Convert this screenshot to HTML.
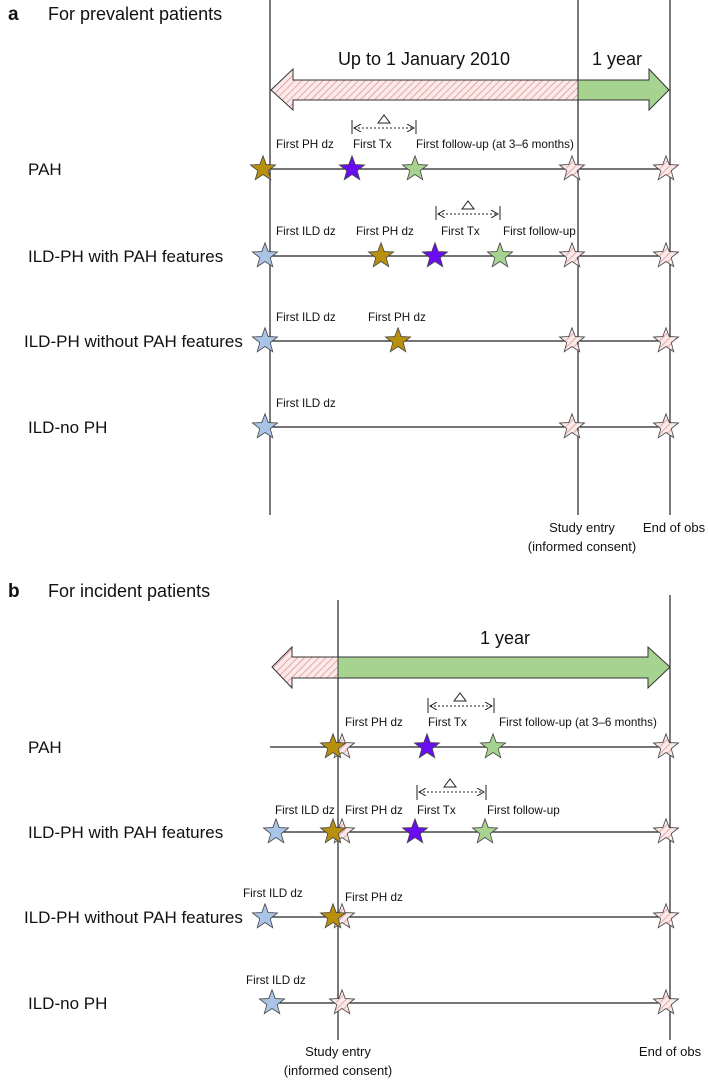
<!DOCTYPE html>
<html><head><meta charset="utf-8"><style>body{margin:0;background:#fff}svg{display:block}text{font-family:"Liberation Sans",Arial,sans-serif;fill:#111}</style></head><body>
<svg width="708" height="1080" viewBox="0 0 708 1080" xmlns="http://www.w3.org/2000/svg">
<defs>
<pattern id="h" width="5" height="5" patternUnits="userSpaceOnUse" patternTransform="rotate(45)"><rect width="5" height="5" fill="#fbeaea"/><line x1="0" y1="0" x2="0" y2="5" stroke="#e08a8a" stroke-width="1.4"/></pattern>
<path id="s" d="M0,-13.2 L3.23,-4.45 L12.55,-4.08 L5.24,1.7 L7.76,10.68 L0,5.5 L-7.76,10.68 L-5.24,1.7 L-12.55,-4.08 L-3.23,-4.45Z" stroke="#444" stroke-width="0.8"/>
<marker id="ar" markerWidth="8" markerHeight="8" refX="7" refY="4" orient="auto"><path d="M0,0 L7,4 L0,8" fill="none" stroke="#222" stroke-width="1"/></marker>
<marker id="al" markerWidth="8" markerHeight="8" refX="1" refY="4" orient="auto"><path d="M8,0 L1,4 L8,8" fill="none" stroke="#222" stroke-width="1"/></marker>
</defs>
<g font-size="18">
<text x="8" y="20" font-weight="bold" font-size="19">a</text><text x="48" y="20">For prevalent patients</text>
<text x="8" y="597" font-weight="bold" font-size="19">b</text><text x="48" y="597">For incident patients</text>
</g>
<g stroke="#222" stroke-width="1.2">
<line x1="270" y1="0" x2="270" y2="515"/><line x1="578" y1="0" x2="578" y2="515"/><line x1="670" y1="0" x2="670" y2="515"/>
<line x1="338" y1="600" x2="338" y2="1040"/><line x1="670" y1="595" x2="670" y2="1040"/>
</g>
<path d="M271,90 L293,69 L293,80 L578,80 L578,100 L293,100 L293,110Z" fill="url(#h)" stroke="#333" stroke-width="1"/>
<path d="M578,80 L649,80 L649,69 L669,90 L649,110 L649,100 L578,100Z" fill="#a6d38f" stroke="#333" stroke-width="1"/>
<text x="424" y="65" font-size="18" text-anchor="middle">Up to 1 January 2010</text>
<text x="617" y="65" font-size="18" text-anchor="middle">1 year</text>
<path d="M272,667 L292,647 L292,657 L338,657 L338,678 L292,678 L292,688Z" fill="url(#h)" stroke="#333" stroke-width="1"/>
<path d="M338,657 L648,657 L648,647 L670,667 L648,688 L648,678 L338,678Z" fill="#a6d38f" stroke="#333" stroke-width="1"/>
<text x="505" y="644" font-size="18" text-anchor="middle">1 year</text>
<g stroke="#222" stroke-width="1.2">
<line x1="263" y1="169" x2="670" y2="169"/><line x1="265" y1="256" x2="670" y2="256"/><line x1="265" y1="341" x2="670" y2="341"/><line x1="265" y1="427" x2="670" y2="427"/>
<line x1="270" y1="747" x2="670" y2="747"/><line x1="276" y1="832" x2="670" y2="832"/><line x1="265" y1="917" x2="670" y2="917"/><line x1="272" y1="1003" x2="670" y2="1003"/>
</g>
<g stroke="#222" stroke-width="1">
<line x1="352" y1="120" x2="352" y2="134"/><line x1="416" y1="120" x2="416" y2="134"/><line x1="354" y1="128" x2="414" y2="128" stroke-dasharray="2,2" marker-start="url(#al)" marker-end="url(#ar)"/>
<line x1="436" y1="206" x2="436" y2="220"/><line x1="500" y1="206" x2="500" y2="220"/><line x1="438" y1="214" x2="498" y2="214" stroke-dasharray="2,2" marker-start="url(#al)" marker-end="url(#ar)"/>
<line x1="428" y1="698" x2="428" y2="713"/><line x1="494" y1="698" x2="494" y2="713"/><line x1="430" y1="706" x2="492" y2="706" stroke-dasharray="2,2" marker-start="url(#al)" marker-end="url(#ar)"/>
<line x1="417" y1="785" x2="417" y2="800"/><line x1="486" y1="785" x2="486" y2="800"/><line x1="419" y1="792" x2="484" y2="792" stroke-dasharray="2,2" marker-start="url(#al)" marker-end="url(#ar)"/>
</g>
<g fill="none" stroke="#222" stroke-width="1">
<path d="M378,123 L384,115 L390,123Z"/><path d="M462,209 L468,201 L474,209Z"/><path d="M454,701 L460,693 L466,701Z"/><path d="M444,787 L450,779 L456,787Z"/>
</g>
<g font-size="11.7">
<text x="276" y="148">First PH dz</text><text x="353" y="148">First Tx</text><text x="416" y="148">First follow-up (at 3–6 months)</text>
<text x="276" y="235">First ILD dz</text><text x="356" y="235">First PH dz</text><text x="441" y="235">First Tx</text><text x="503" y="235">First follow-up</text>
<text x="276" y="321">First ILD dz</text><text x="368" y="321">First PH dz</text>
<text x="276" y="407">First ILD dz</text>
<text x="345" y="726">First PH dz</text><text x="428" y="726">First Tx</text><text x="499" y="726">First follow-up (at 3–6 months)</text>
<text x="275" y="814">First ILD dz</text><text x="345" y="814">First PH dz</text><text x="417" y="814">First Tx</text><text x="487" y="814">First follow-up</text>
<text x="243" y="897">First ILD dz</text><text x="345" y="901">First PH dz</text>
<text x="246" y="984">First ILD dz</text>
</g>
<g font-size="13" text-anchor="middle">
<text x="582" y="532">Study entry</text><text x="582" y="551">(informed consent)</text><text x="674" y="532">End of obs</text>
<text x="338" y="1056">Study entry</text><text x="338" y="1075">(informed consent)</text><text x="670" y="1056">End of obs</text>
</g>
<g font-size="17">
<text x="28" y="175">PAH</text><text x="28" y="262">ILD-PH with PAH features</text><text x="24" y="347">ILD-PH without PAH features</text><text x="28" y="433">ILD-no PH</text>
<text x="28" y="753">PAH</text><text x="28" y="838">ILD-PH with PAH features</text><text x="24" y="923">ILD-PH without PAH features</text><text x="28" y="1009">ILD-no PH</text>
</g>
<g>
<use href="#s" x="263" y="169" fill="#b8900c"/><use href="#s" x="352" y="169" fill="#6a0cf0"/><use href="#s" x="415" y="169" fill="#a6d38f"/><use href="#s" x="572" y="169" fill="url(#h)"/><use href="#s" x="666" y="169" fill="url(#h)"/>
<use href="#s" x="265" y="256" fill="#aac4e8"/><use href="#s" x="381" y="256" fill="#b8900c"/><use href="#s" x="435" y="256" fill="#6a0cf0"/><use href="#s" x="500" y="256" fill="#a6d38f"/><use href="#s" x="572" y="256" fill="url(#h)"/><use href="#s" x="666" y="256" fill="url(#h)"/>
<use href="#s" x="265" y="341" fill="#aac4e8"/><use href="#s" x="398" y="341" fill="#b8900c"/><use href="#s" x="572" y="341" fill="url(#h)"/><use href="#s" x="666" y="341" fill="url(#h)"/>
<use href="#s" x="265" y="427" fill="#aac4e8"/><use href="#s" x="572" y="427" fill="url(#h)"/><use href="#s" x="666" y="427" fill="url(#h)"/>
<use href="#s" x="342" y="747" fill="url(#h)"/><use href="#s" x="333" y="747" fill="#b8900c"/><use href="#s" x="427" y="747" fill="#6a0cf0"/><use href="#s" x="493" y="747" fill="#a6d38f"/><use href="#s" x="666" y="747" fill="url(#h)"/>
<use href="#s" x="276" y="832" fill="#aac4e8"/><use href="#s" x="342" y="832" fill="url(#h)"/><use href="#s" x="333" y="832" fill="#b8900c"/><use href="#s" x="415" y="832" fill="#6a0cf0"/><use href="#s" x="485" y="832" fill="#a6d38f"/><use href="#s" x="666" y="832" fill="url(#h)"/>
<use href="#s" x="265" y="917" fill="#aac4e8"/><use href="#s" x="342" y="917" fill="url(#h)"/><use href="#s" x="333" y="917" fill="#b8900c"/><use href="#s" x="666" y="917" fill="url(#h)"/>
<use href="#s" x="272" y="1003" fill="#aac4e8"/><use href="#s" x="342" y="1003" fill="url(#h)"/><use href="#s" x="666" y="1003" fill="url(#h)"/>
</g>
</svg>
</body></html>
